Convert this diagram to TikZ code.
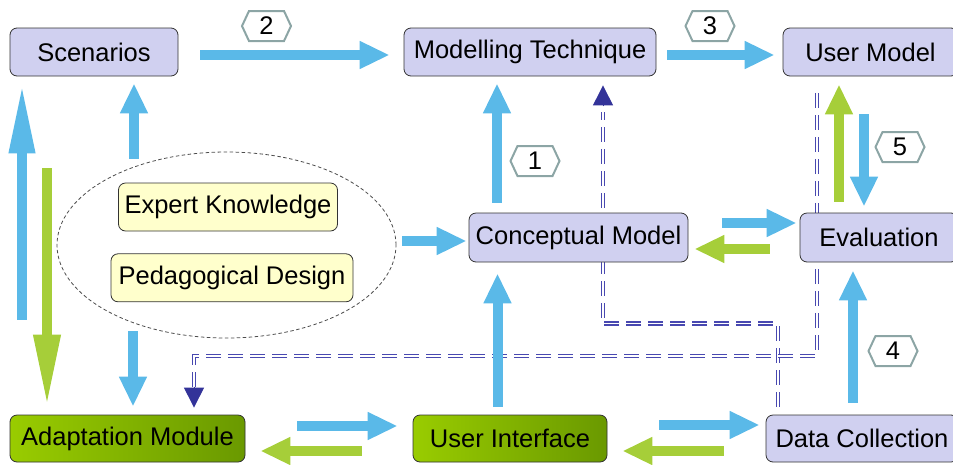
\documentclass[tikz,border=0pt]{standalone}
\usepackage{fontspec}
\setmainfont{Liberation Sans}
\usepackage{tikz}
\definecolor{mylavender}{RGB}{208,208,240}
\definecolor{myyellow}{RGB}{255,255,204}
\definecolor{myskyblue}{RGB}{90,185,232}
\definecolor{mylime}{RGB}{166,206,57}
\definecolor{mygreenl}{RGB}{153,204,0}
\definecolor{mygreenr}{RGB}{106,153,0}
\definecolor{mynavy}{RGB}{51,51,153}
\definecolor{mydash}{RGB}{72,72,176}
\definecolor{mygrayteal}{RGB}{140,165,165}
\usetikzlibrary{arrows.meta,positioning,shapes.geometric,shapes.symbols,calc}
\pgfdeclarelayer{background}
\pgfsetlayers{background,main}

\begin{document}
\begin{tikzpicture}[
  x=1pt, y=-1pt,
  mybox/.style={
    draw=black!80,
    line width=0.8pt,
    rounded corners=7pt,
    fill=mylavender,
    minimum height=48pt,
    inner sep=0pt,
    font=\fontsize{25.5}{30}\selectfont
    },
  mygreenbox/.style={mybox, left color=mygreenl, right color=mygreenr},
  myyellowbox/.style={mybox, fill=myyellow},
  myhex/.style={
    signal,
    signal to=east and west,
    signal pointer angle=130,
    draw=mygrayteal,
    line width=2pt,
    fill=white,
    minimum width=49pt,
    minimum height=30pt,
    inner sep=0pt,
    font=\fontsize{25.5}{30}\selectfont
    },
  myblue/.style={draw=myskyblue, line width=10pt, -{Triangle[length=30pt,width=26pt]}},
  mygreen/.style={myblue, draw=mylime},
  mylongblue/.style={myblue, -{Triangle[length=70pt,width=24pt]}},
  mylonggreen/.style={mygreen, -{Triangle[length=72pt,width=25pt]}},
  mylink/.style={draw=mydash, double=white, double distance=1.8pt, line width=1.2pt, dash pattern=on 15pt off 7pt},
  mytip/.style={draw=mynavy, line width=1pt, -{Triangle[length=20pt,width=20pt]}}
]
\useasboundingbox (0,0) rectangle (953,464);

\node[mybox, minimum width=168pt] (scen) at (94,52) {Scenarios};
\node[mybox, minimum width=252pt] (tech) at (530,52) {Modelling Technique};
\node[mybox, minimum width=175pt] (umod) at (870.5,52) {User Model};
\node[mybox, minimum width=219pt, minimum height=49pt] (concept) at (578.5,237.5) {Conceptual Model};
\node[mybox, minimum width=158pt, minimum height=49pt] (eval) at (879,237.5) {Evaluation};
\node[mygreenbox, minimum width=235pt, minimum height=47pt] (adapt) at (127.5,438.5) {Adaptation Module};
\node[mygreenbox, minimum width=194pt, minimum height=47pt] (ui) at (510,438.5) {User Interface};
\node[mybox, minimum width=192pt, minimum height=47pt] (dc) at (862,438.5) {Data Collection};

\node[draw=black!70, line width=0.8pt, dash pattern=on 3.5pt off 2.5pt, ellipse, minimum width=339pt, minimum height=186pt] (group) at (226.5,245) {};
\node[myyellowbox, minimum width=219pt] (expert) at (228,207) {Expert Knowledge};
\node[myyellowbox, minimum width=242pt, below=22pt of expert, xshift=4pt] (peda) {Pedagogical Design};

\node[myhex] (n2) at (266.5,26) {2};
\node[myhex] (n3) at (710,26) {3};
\node[myhex] (n1) at (535,161) {1};
\node[myhex] (n5) at (900,147) {5};
\node[myhex] (n4) at (893,351) {4};

\draw[myblue] ([shift={(22,3)}]scen.east) -- ([shift={(-14,3)}]tech.west);
\draw[myblue] ([shift={(11,3)}]tech.east) -- ([shift={(-8,3)}]umod.west);
\draw[myblue] ([shift={(-81.5,-10)}]concept.north) -- ([shift={(-33,7)}]tech.south);
\draw[myblue] ([shift={(-6.5,38)}]umod.south) -- ([shift={(-15,-6)}]eval.north);
\draw[mygreen] ([shift={(-40,-11)}]eval.north) -- ([shift={(-31.5,8)}]umod.south);
\draw[myblue] ([shift={(34,-14.5)}]concept.east) -- ([shift={(-3,-14.5)}]eval.west);
\draw[mygreen] ([shift={(-30,11.5)}]eval.west) -- ([shift={(6,11.5)}]concept.east);
\draw[myblue] ([shift={(-9,-12)}]dc.north) -- ([shift={(-26,8)}]eval.south);
\draw[myblue] ([shift={(-12.5,-8)}]ui.north) -- ([shift={(-81,11)}]concept.south);
\draw[myblue] ([shift={(6,-4)}]group.east) -- ([shift={(-2,3.5)}]concept.west);
\draw[myblue] ([shift={(-92.5,7)}]group.north) -- ([shift={(40,7)}]scen.south);
\draw[myblue] ([shift={(-93.5,-7)}]group.south) -- ([shift={(5.5,-8)}]adapt.north);
\draw[myblue] ([shift={(52,-12.5)}]adapt.east) -- ([shift={(-15,-12.5)}]ui.west);
\draw[mygreen] ([shift={(-51,12.5)}]ui.west) -- ([shift={(15,12.5)}]adapt.east);
\draw[myblue] ([shift={(52,-13.5)}]ui.east) -- ([shift={(-6,-13.5)}]dc.west);
\draw[mygreen] ([shift={(-42,12.5)}]dc.west) -- ([shift={(15,12.5)}]ui.east);
\draw[mylongblue] ([shift={(-105.5,-95)}]adapt.north) -- ([shift={(-72,7)}]scen.south);
\draw[mylonggreen] ([shift={(-47,92)}]scen.south) -- ([shift={(-80.5,-8)}]adapt.north);

\begin{pgfonlayer}{background}
\draw[mylink] ([shift={(-84,-8)}]dc.north) |- ([shift={(73,247)}]tech.south) -- ([shift={(73,36)}]tech.south);
\draw[mylink] ([shift={(-53.5,17)}]umod.south) |- ([shift={(66.5,-59)}]adapt.north) -- ([shift={(66.5,-27)}]adapt.north);
\end{pgfonlayer}
\draw[mytip] ([shift={(73,30)}]tech.south) -- ([shift={(73,9)}]tech.south);
\draw[mytip] ([shift={(66.5,-28)}]adapt.north) -- ([shift={(66.5,-7)}]adapt.north);
\end{tikzpicture}
\end{document}
